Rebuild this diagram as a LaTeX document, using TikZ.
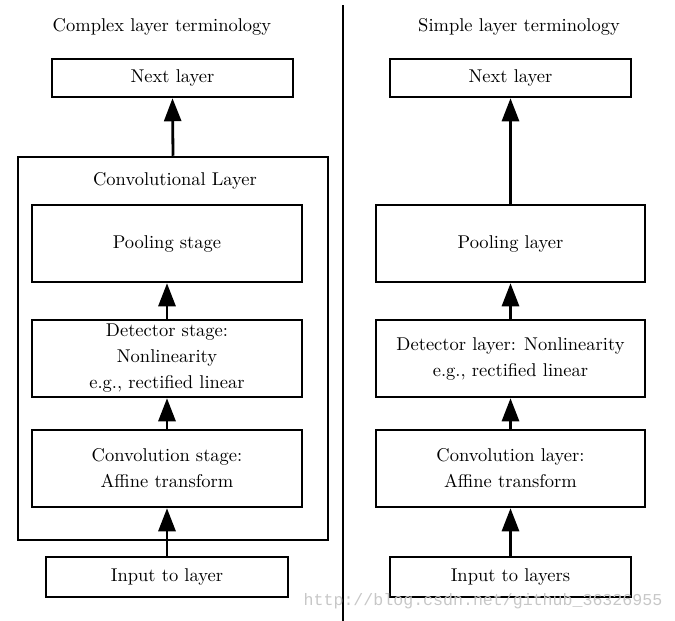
\documentclass[tikz,border=0pt]{standalone}
\usepackage{fontspec}
\setmainfont{lmroman10-regular.otf}
\newfontfamily\wmfont{Liberation Mono}
\usetikzlibrary{arrows.meta}

\begin{document}
\begin{tikzpicture}[x=1pt, y=-1pt,
		every node/.style={font=\fontsize{18.5}{26}\selectfont},
		layerbox/.style={draw, line width=2.5pt, align=center, inner sep=0pt},
		uparrow/.style={line width=2.8pt, -{Triangle[length=23pt,width=17pt]}}]
			%%%%% START %%%%%
			\useasboundingbox (0, 0) rectangle (675, 621);
			
			% divider
			\draw[line width=2.2pt] (343, 5) -- (343, 621);
			
			% complex layer terminology
			\node (ctitle) at (162, 26.5) {Complex layer terminology};
			\node[layerbox, minimum width=241pt, minimum height=38pt] (cnext) at (172.5, 78) {Next layer};
			\node[layerbox, minimum width=310pt, minimum height=383pt] (cconv) at (173, 348.5) {};
			\node (cconvtitle) at (175, 181) {Convolutional Layer};
			\node[layerbox, minimum width=270pt, minimum height=77pt] (cpool) at (167, 243.5) {Pooling stage};
			\node[layerbox, minimum width=270pt, minimum height=77pt] (cdetect) at (167, 358.5) {Detector stage:\\Nonlinearity\\e.g., rectified linear};
			\node[layerbox, minimum width=270pt, minimum height=77pt] (cstage) at (167, 468.5) {Convolution stage:\\Affine transform};
			\node[layerbox, minimum width=242pt, minimum height=40pt] (cinput) at (167, 577) {Input to layer};
			
			\draw[uparrow] (cinput.north) -- (cstage.south);
			\draw[uparrow] (cstage.north) -- (cdetect.south);
			\draw[uparrow] (cdetect.north) -- (cpool.south);
			\draw[uparrow] (cconv.north) -- (cnext.south);
			
			% simple layer terminology
			\node (stitle) at (519, 26.5) {Simple layer terminology};
			\node[layerbox, minimum width=241pt, minimum height=38pt] (snext) at (510.5, 78) {Next layer};
			\node[layerbox, minimum width=269pt, minimum height=77pt] (spool) at (510.5, 243.5) {Pooling layer};
			\node[layerbox, minimum width=269pt, minimum height=77pt] (sdetect) at (510.5, 358.5) {Detector layer: Nonlinearity\\e.g., rectified linear};
			\node[layerbox, minimum width=269pt, minimum height=77pt] (sconv) at (510.5, 468.5) {Convolution layer:\\Affine transform};
			\node[layerbox, minimum width=241pt, minimum height=40pt] (sinput) at (510.5, 577) {Input to layers};
			
			\draw[uparrow] (sinput.north) -- (sconv.south);
			\draw[uparrow] (sconv.north) -- (sdetect.south);
			\draw[uparrow] (sdetect.north) -- (spool.south);
			\draw[uparrow] (spool.north) -- (snext.south);
			
			% watermark
			\node[font=\wmfont\fontsize{16.6}{18}\selectfont, color=black!22] (mark) at (483, 601) {http://blog.csdn.net/github\_36326955};
			
			%%%%% END %%%%%
		\end{tikzpicture}
\end{document}
